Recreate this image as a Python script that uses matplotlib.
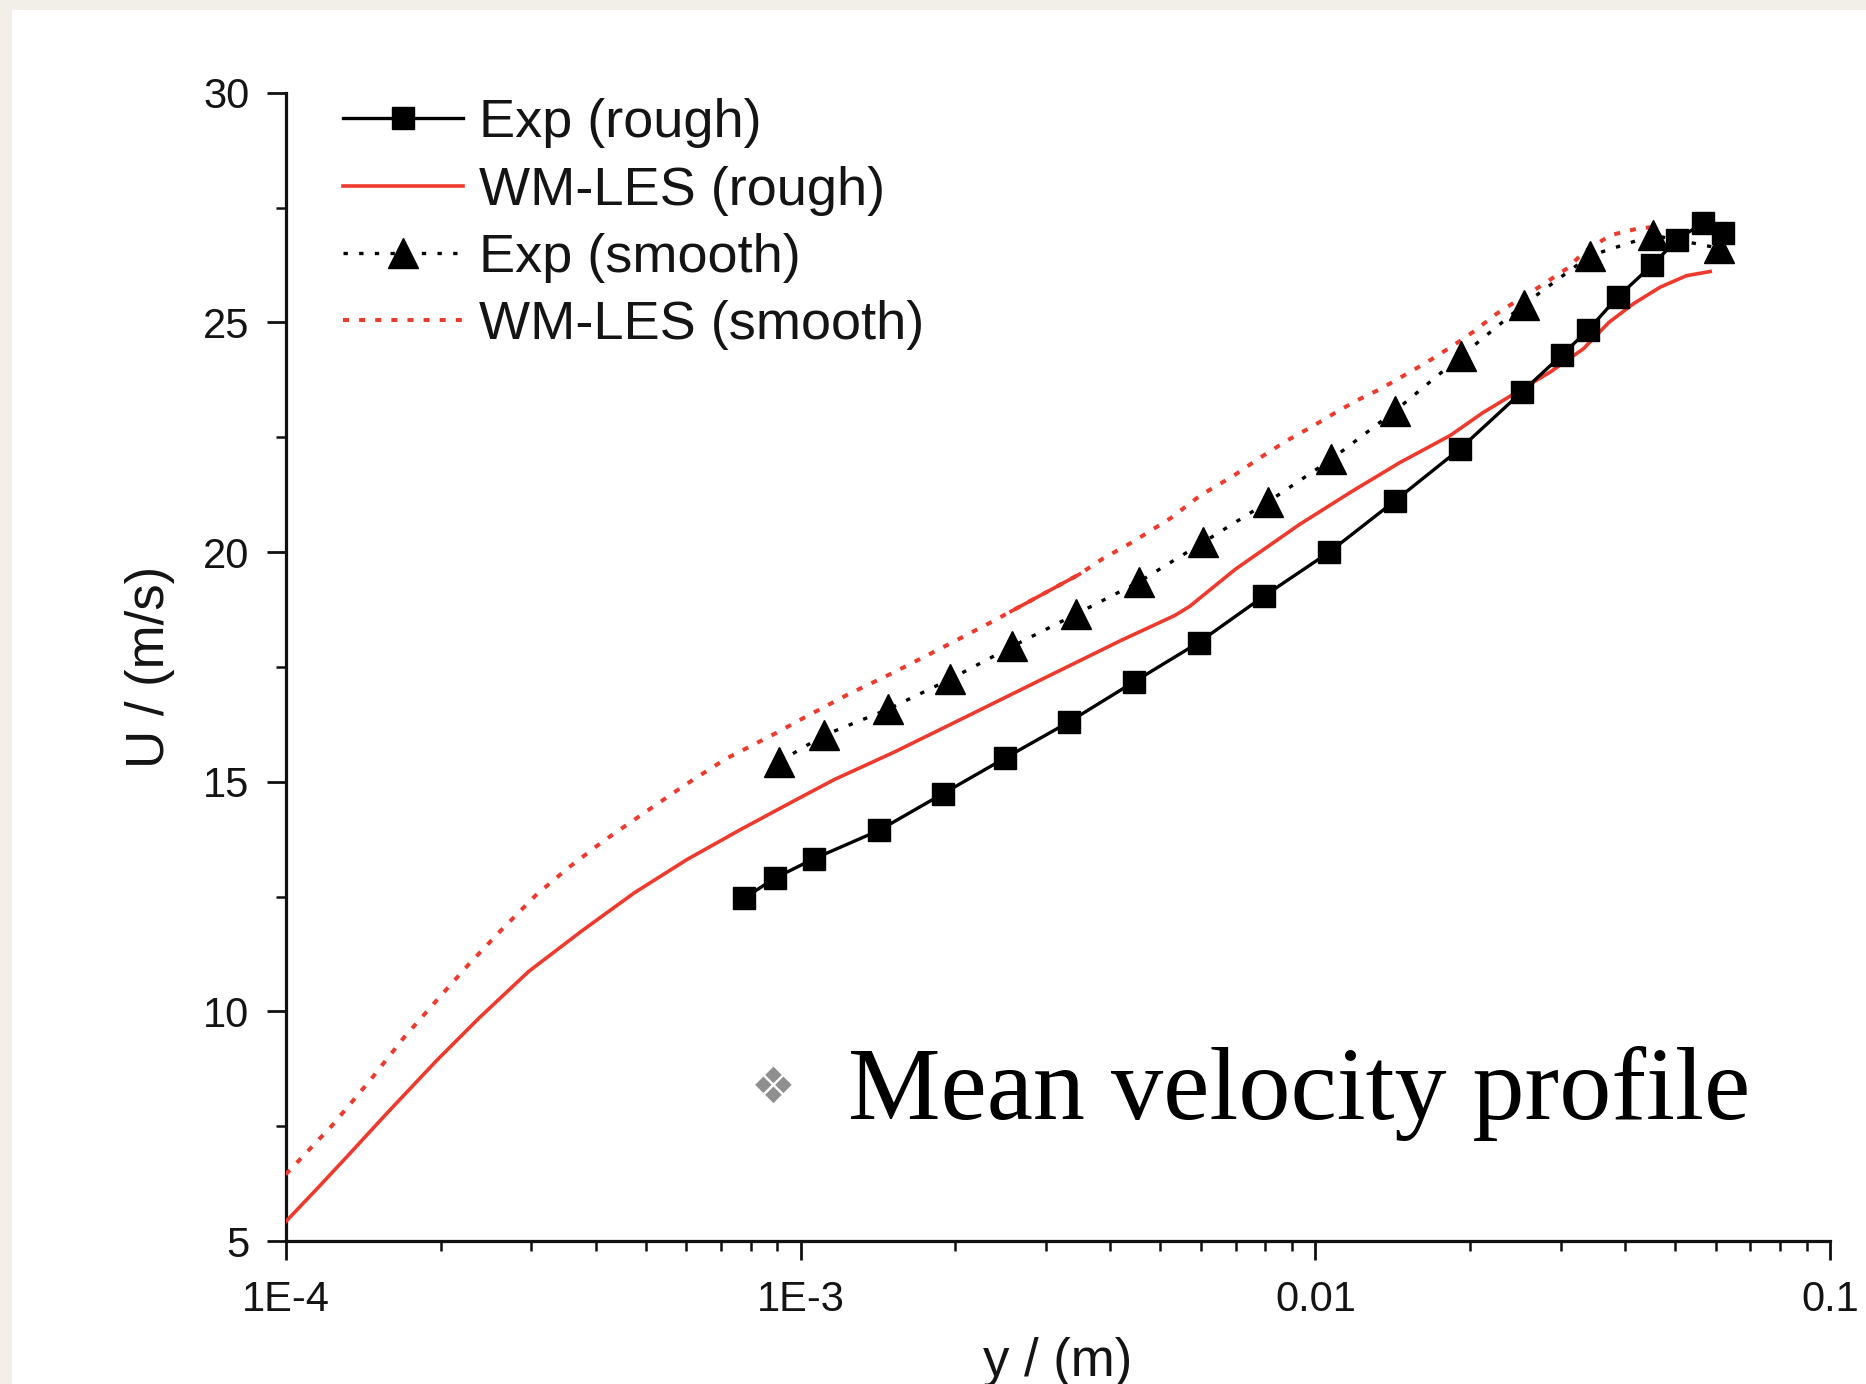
import numpy as np
import matplotlib.pyplot as plt
from matplotlib.patches import Rectangle
from matplotlib.ticker import LogLocator, FixedLocator, FixedFormatter, NullFormatter, MultipleLocator

plt.rcParams['font.family'] = ['Liberation Sans', 'DejaVu Sans']

# --- data (y in m, U in m/s)
exp_rough_y = [7.76e-4, 8.91e-4, 1.06e-3, 1.42e-3, 1.89e-3, 2.50e-3, 3.32e-3, 4.45e-3,
               5.93e-3, 7.94e-3, 1.064e-2, 1.425e-2, 1.91e-2, 2.52e-2, 3.01e-2, 3.39e-2,
               3.87e-2, 4.51e-2, 5.04e-2, 5.66e-2, 6.19e-2]
exp_rough_u = [12.46, 12.90, 13.32, 13.94, 14.74, 15.52, 16.30, 17.18,
               18.03, 19.04, 20.00, 21.11, 22.25, 23.49, 24.29, 24.84,
               25.56, 26.25, 26.80, 27.17, 26.95]

exp_smooth_y = [9.1e-4, 1.11e-3, 1.48e-3, 1.95e-3, 2.58e-3, 3.43e-3, 4.54e-3, 6.05e-3,
                8.08e-3, 1.074e-2, 1.43e-2, 1.92e-2, 2.54e-2, 3.41e-2, 4.53e-2, 6.07e-2]
exp_smooth_u = [15.44, 16.01, 16.58, 17.23, 17.95, 18.65, 19.35, 20.21,
                21.09, 22.02, 23.08, 24.27, 25.39, 26.45, 26.90, 26.62]

les_rough_y = [1.000e-4, 1.153e-4, 1.306e-4, 1.578e-4, 1.968e-4, 2.377e-4, 2.965e-4, 3.758e-4,
               4.753e-4, 6.026e-4, 7.621e-4, 9.66e-4, 1.164e-3, 1.517e-3, 2.128e-3, 2.992e-3,
               4.198e-3, 5.333e-3, 5.702e-3, 6.998e-3, 9.31e-3, 1.169e-2, 1.459e-2, 1.828e-2,
               2.118e-2, 2.460e-2, 2.858e-2, 3.319e-2, 3.715e-2, 4.150e-2, 4.677e-2, 5.260e-2,
               5.848e-2]
les_rough_u = [5.42, 6.15, 6.80, 7.80, 8.94, 9.86, 10.87, 11.75,
               12.58, 13.31, 13.95, 14.57, 15.05, 15.64, 16.45, 17.27,
               18.08, 18.62, 18.82, 19.63, 20.60, 21.30, 21.95, 22.54,
               23.04, 23.48, 23.92, 24.43, 25.00, 25.41, 25.77, 26.02,
               26.11]

les_smooth_y = [1.000e-4, 1.227e-4, 1.459e-4, 1.694e-4, 1.968e-4, 2.270e-4, 2.612e-4, 3.062e-4,
                3.524e-4, 4.130e-4, 4.909e-4, 5.929e-4, 7.161e-4, 8.93e-4, 1.026e-3, 1.236e-3,
                1.517e-3, 1.892e-3, 2.360e-3, 2.564e-3, 3.483e-3, 3.855e-3, 4.416e-3, 5.236e-3,
                5.97e-3, 6.93e-3, 7.82e-3, 8.81e-3, 9.91e-3, 1.084e-2, 1.202e-2, 1.337e-2,
                1.483e-2, 1.644e-2, 1.854e-2, 2.028e-2, 2.249e-2, 2.500e-2, 2.754e-2, 3.076e-2,
                3.342e-2, 3.741e-2, 4.246e-2, 4.571e-2]
les_smooth_u = [6.45, 7.50, 8.50, 9.42, 10.25, 11.03, 11.75, 12.53,
                13.11, 13.70, 14.28, 14.91, 15.50, 16.05, 16.42, 16.90,
                17.38, 17.93, 18.49, 18.71, 19.52, 19.85, 20.22, 20.74,
                21.23, 21.66, 22.06, 22.43, 22.75, 23.01, 23.30, 23.55,
                23.84, 24.13, 24.50, 24.80, 25.19, 25.52, 25.81, 26.17,
                26.55, 26.90, 27.05, 27.08]

xtick_vals = [1e-4, 1e-3, 1e-2, 1e-1]
xtick_labels = ['1E-4', '1E-3', '0.01', '0.1']

red = '#ee3a2c'
txt = '#141414'

fig = plt.figure(figsize=(18.66, 13.84), dpi=100, facecolor='#f2efe8')
# white slide panel
fig.add_artist(Rectangle((0.0064, 0), 0.9936, 0.9928, transform=fig.transFigure,
                         facecolor='white', edgecolor='none', zorder=0))

ax = fig.add_axes([0.1531, 0.1033, 0.8277, 0.8296])
ax.set_facecolor('white')

ax.plot(exp_rough_y, exp_rough_u, color='black', lw=2.4, marker='s', markersize=16,
        label='Exp (rough)', zorder=4)
ax.plot(les_rough_y, les_rough_u, color=red, lw=2.6, label='WM-LES (rough)', zorder=3)
ax.plot(exp_smooth_y, exp_smooth_u, color='black', lw=2.4, ls=(0, (1.3, 3.4)),
        marker='^', markersize=21, label='Exp (smooth)', zorder=4)
ax.plot(les_smooth_y, les_smooth_u, color=red, lw=2.9, ls=(0, (1.5, 2.5)),
        label='WM-LES (smooth)', zorder=3)
# the stretch where the dotted curve renders solid in the original
ls_y = np.array(les_smooth_y)
ls_u = np.array(les_smooth_u)
seg = (ls_y >= 2.5e-3) & (ls_y <= 3.5e-3)
ax.plot(ls_y[seg], ls_u[seg], color=red, lw=2.6, zorder=3)

ax.set_xscale('log')
ax.set_xlim(1e-4, 1e-1)
ax.set_ylim(5, 30)

ax.spines['top'].set_visible(False)
ax.spines['right'].set_visible(False)
for s in ['left', 'bottom']:
    ax.spines[s].set_linewidth(2.3)
    ax.spines[s].set_color('#111111')

ax.xaxis.set_major_locator(FixedLocator(xtick_vals))
ax.xaxis.set_major_formatter(FixedFormatter(xtick_labels))
ax.xaxis.set_minor_locator(LogLocator(base=10, subs=np.arange(2, 10)))
ax.xaxis.set_minor_formatter(NullFormatter())
ax.yaxis.set_major_locator(MultipleLocator(5))
ax.yaxis.set_minor_locator(MultipleLocator(2.5))

ax.tick_params(which='major', direction='out', length=14, width=2.0, labelsize=30,
               colors='#111111', labelcolor=txt)
ax.tick_params(which='minor', direction='out', length=7, width=1.8, colors='#111111')
ax.tick_params(axis='y', which='major', pad=12)
ax.tick_params(axis='x', which='major', pad=14)

ax.set_xlabel('y / (m)', fontsize=38, color=txt, labelpad=12)
ax.set_ylabel('U / (m/s)', fontsize=38, color=txt, labelpad=20)

ax.legend(loc='upper left', bbox_to_anchor=(0.184, 0.929), bbox_transform=fig.transFigure,
          frameon=False, fontsize=39, handlelength=2.2, handletextpad=0.3,
          labelspacing=0.32, borderpad=0, borderaxespad=0, numpoints=1,
          labelcolor=txt)

# slide bullet text
fig.text(0.4143, 0.2135, '\u2756', fontsize=36, color='#8f8f8f', ha='center', va='center',
         family='DejaVu Sans')
fig.text(0.4547, 0.1915, 'Mean velocity profile', fontsize=75, color='black',
         family='Liberation Serif', ha='left', va='baseline')

fig.savefig('out.png', dpi=100, facecolor=fig.get_facecolor())
